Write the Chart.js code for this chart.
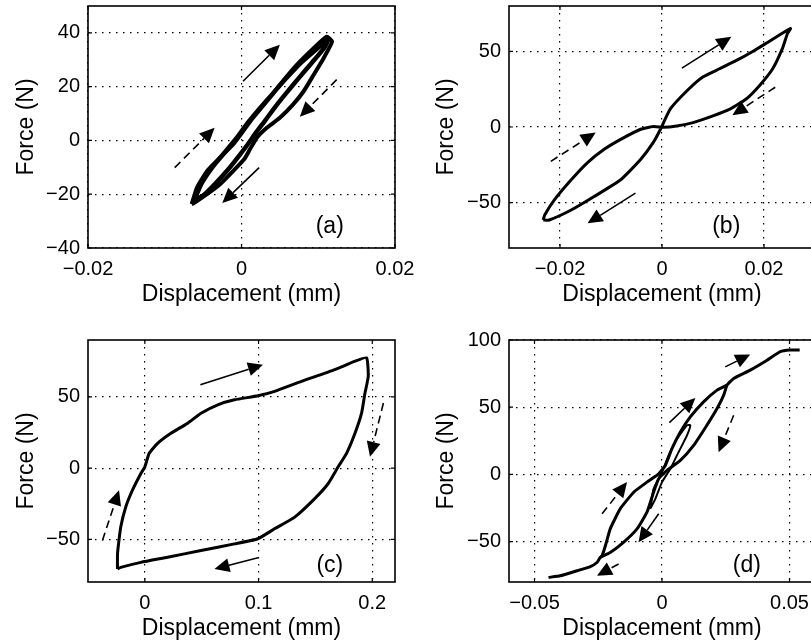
<!DOCTYPE html>
<html>
<head>
<meta charset="utf-8">
<script src="https://cdn.jsdelivr.net/npm/chart.js@4.4.1/dist/chart.umd.min.js"></script>
<style>
  html, body { margin: 0; padding: 0; background: #fff; overflow: hidden; width: 811px; height: 641px; }
  canvas { position: absolute; }
</style>
</head>
<body>
<canvas id="pa" width="420" height="310" style="left:0;top:0"></canvas>
<canvas id="pb" width="420" height="310" style="left:420px;top:0"></canvas>
<canvas id="pc" width="420" height="324" style="left:0;top:320px"></canvas>
<canvas id="pd" width="420" height="324" style="left:420px;top:320px"></canvas>
<script>
// panel (a): overlapping cycles
const loopA1 = [[-0.0065,-23.7],[-0.0058,-17.5],[-0.0045,-11.4],[-0.0028,-6.4],[-0.0011,-1.5],[0.0002,3.4],[0.0015,8.4],[0.0033,14.6],[0.0050,20.7],[0.0072,28.1],[0.0094,34.3],[0.0111,38.6],
  [0.0118,36.8],[0.0107,30.6],[0.0094,24.4],[0.0081,18.3],[0.0067,13.3],[0.0050,8.4],[0.0033,4.7],[0.0020,1.0],[0.0011,-3.3],[0.0004,-6.8],[-0.0011,-11.4],[-0.0028,-16.3],[-0.0045,-20],[-0.0061,-23.1],[-0.0065,-23.7]];
const loopA2 = [[-0.0062,-22.5],[-0.0052,-16],[-0.0038,-10],[-0.0022,-4.5],[-0.0006,1],[0.0008,6.5],[0.0024,12],[0.0041,17.5],[0.0058,23],[0.0078,29],[0.0098,34],[0.0113,37.5],
  [0.0108,34.5],[0.0092,29],[0.0074,23],[0.0058,17.5],[0.0044,12.5],[0.0031,7.5],[0.0019,3],[0.0008,-1.5],[-0.0004,-6],[-0.0018,-11],[-0.0034,-16],[-0.0050,-20.5],[-0.0062,-22.5]];
const xTicksA = [-0.02, 0, 0.02];
const yTicksA = [-40, -20, 0, 20, 40];
const arrowsA = [[0.0002,22,0.0050,35.6,false],[0.0124,22.6,0.0076,8.8,true],[-0.0087,-10.1,-0.0035,4.7,true],[0.0023,-10.1,-0.0025,-23.3,false]];

// panel (b): pinched loop
const loopB = [[-0.0233,-61.5],[-0.0221,-61.5],[-0.0178,-54.9],[-0.0133,-46],[-0.0081,-34.9],[-0.0042,-21.5],[-0.0017,-10.2],[-0.0003,-1.5],
  [0.0016,11.8],[0.0049,24],[0.0080,33.1],[0.0113,38.5],[0.0146,44],[0.0177,49.8],[0.0210,56.5],[0.0235,61.8],[0.0252,65.1],
  [0.0246,61.8],[0.0236,51.8],[0.0217,38.5],[0.0191,27.3],[0.0165,18.5],[0.0133,11.8],[0.0100,7.3],[0.0061,2.9],[0.0029,0.7],[0.0003,-0.2],
  [-0.0017,0.3],[-0.0042,-1.5],[-0.0081,-8.2],[-0.0114,-14.9],[-0.0146,-23.5],[-0.0178,-34.9],[-0.0211,-48.2],[-0.0230,-58.2],[-0.0233,-61.5]];
const xTicksB = [-0.02, 0, 0.02];
const yTicksB = [-50, 0, 50];
const arrowsB = [[0.0039,38.9,0.0136,59.6,false],[0.0222,26.3,0.0138,7.8,true],[-0.0218,-22.7,-0.0130,-3.7,true],[-0.0052,-43.7,-0.0146,-63.7,false]];

// panel (c): wide loop
const loopC = [[-0.0241,-70.8],[-0.0241,-62],[-0.0238,-57.9],[-0.0212,-41.4],[-0.0168,-27.3],[-0.0109,-15.5],[-0.0035,-3.8],[0,0.9],[0.0038,10.4],[0.0112,17.4],[0.0229,24.5],[0.0377,31.6],[0.0494,38.6],[0.0642,44.5],[0.0788,48],[0.0994,50.8],[0.1141,53.9],[0.1377,60.9],[0.1671,69.2],[0.1848,75.1],[0.195,77.5],
  [0.1965,64.5],[0.1936,52.7],[0.1906,38.6],[0.1848,24.5],[0.1774,10.4],[0.170,0.9],[0.1613,-10.8],[0.1494,-21.4],[0.1318,-34.4],[0.1141,-42.6],[0.0994,-49.6],[0.0788,-53.2],[0.0494,-57.9],[0.02,-62.6],[-0.0035,-66.2],[-0.0212,-69.7],[-0.0241,-70.8]];
const xTicksC = [0, 0.1, 0.2];
const yTicksC = [-50, 0, 50];
const arrowsC = [[0.0488,58.6,0.1039,72.7,false],[0.2098,45.7,0.198,8,true],[-0.0373,-50.8,-0.0227,-15.5,true],[0.0995,-63,0.0612,-70.8,false]];

// panel (d): S-shaped path with loops
const pathD = [[-0.0445,-76.6],[-0.0399,-75.4],[-0.0333,-71.6],[-0.0281,-68.5],[-0.0255,-65.5],[-0.0242,-61.7],[-0.0203,-58],[-0.0151,-50.5],[-0.0098,-40.5],[-0.0059,-28.1],[-0.0033,-13.2],[-0.0013,-3.2],[0.002,3],[0.0072,10.4],[0.0124,21.6],[0.0176,36.6],[0.0216,49],[0.0242,59],[0.0255,66.4],
  [0.0281,71.4],[0.0346,77.6],[0.0412,85],[0.0464,91.3],[0.0503,92.5],[0.054,92.5]];
const upperD = [[0.0255,66.4],[0.0216,62.7],[0.0163,54],[0.0111,42.8],[0.0072,31.6],[0.0039,19.2],[0.0013,6.7],[-0.0013,0.5],[-0.0059,-5.7],[-0.0111,-13.2],[-0.0164,-25.6],[-0.0203,-40.5],[-0.0222,-53],[-0.0235,-60.4],[-0.0242,-61.7]];
const innerD = [[-0.0046,-25.6],[-0.0033,-10.7],[0,1.7],[0.0026,14.2],[0.0059,26.6],[0.0098,36.6],[0.0111,36.6],[0.0098,29.1],[0.0065,16.6],[0.0033,4.3],[0,-5.7],[-0.0026,-18.1],[-0.0046,-25.6]];
const xTicksD = [-0.05, 0, 0.05];
const yTicksD = [-50, 0, 50, 100];
const arrowsD = [[0.0248,80,0.0346,89.3,false],[0.0029,38.6,0.0131,56.9,false],[0.0281,44,0.0222,16.6,true],[-0.0235,-29.3,-0.0137,-5.7,true],[-0.0013,-29.3,-0.0092,-50.5,false],[-0.017,-66.6,-0.0255,-75.4,true]];

const FONT = '"Liberation Sans", Arial, Helvetica, sans-serif';
Chart.defaults.font.family = FONT;
Chart.defaults.color = '#000';

function drawArrow(ctx, x1, y1, x2, y2, dashed) {
  const ang = Math.atan2(y2 - y1, x2 - x1);
  const hl = 15, hw = 7;
  const bx = x2 - hl * Math.cos(ang), by = y2 - hl * Math.sin(ang);
  ctx.save();
  ctx.strokeStyle = '#000';
  ctx.fillStyle = '#000';
  ctx.lineWidth = 1.6;
  ctx.setLineDash(dashed ? [8, 5] : []);
  ctx.beginPath();
  ctx.moveTo(x1, y1);
  ctx.lineTo(bx, by);
  ctx.stroke();
  ctx.setLineDash([]);
  ctx.beginPath();
  ctx.moveTo(x2, y2);
  ctx.lineTo(bx + hw * Math.sin(ang), by - hw * Math.cos(ang));
  ctx.lineTo(bx - hw * Math.sin(ang), by + hw * Math.cos(ang));
  ctx.closePath();
  ctx.fill();
  ctx.restore();
}

// box, inward ticks, arrows and panel letter
const decor = {
  id: 'decor',
  afterDraw(chart, args, o) {
    const { ctx, chartArea: a, scales: { x, y } } = chart;
    ctx.save();
    ctx.strokeStyle = '#000';
    ctx.lineWidth = 1.2;
    ctx.beginPath();
    x.ticks.forEach(t => {
      const px = x.getPixelForValue(t.value);
      ctx.moveTo(px, a.bottom); ctx.lineTo(px, a.bottom - 4);
      ctx.moveTo(px, a.top); ctx.lineTo(px, a.top + 4);
    });
    y.ticks.forEach(t => {
      const py = y.getPixelForValue(t.value);
      ctx.moveTo(a.left, py); ctx.lineTo(a.left + 4, py);
      ctx.moveTo(a.right, py); ctx.lineTo(a.right - 4, py);
    });
    ctx.stroke();
    ctx.lineWidth = 1.6;
    ctx.strokeRect(a.left, a.top, a.right - a.left, a.bottom - a.top);
    (o.arrows || []).forEach(([x1, y1, x2, y2, d]) =>
      drawArrow(ctx, x.getPixelForValue(x1), y.getPixelForValue(y1), x.getPixelForValue(x2), y.getPixelForValue(y2), d));
    ctx.fillStyle = '#000';
    ctx.font = '23px ' + FONT;
    ctx.textAlign = 'center';
    ctx.textBaseline = 'middle';
    ctx.fillText(o.label, x.getPixelForValue(o.at[0]), y.getPixelForValue(o.at[1]));
    ctx.restore();
  }
};

const fmt = v => (v < 0 ? '\u2212' + Math.abs(v) : String(v));
const noPad = s => { s.paddingTop = 0; s.paddingBottom = 0; s.paddingLeft = 0; s.paddingRight = 0; };

function makePanel(id, loops, widths, padTop, xr, yr, xt, yt, yw, arrows, label, at) {
  const gridCfg = { color: '#000', lineWidth: 1.2, drawTicks: false };
  const borderCfg = { display: false, dash: [1.5, 5.5] };
  return new Chart(document.getElementById(id), {
    type: 'scatter',
    data: {
      datasets: loops.map((pts, i) => ({
        data: pts.map(([x, y]) => ({ x, y })),
        showLine: true, borderColor: '#000', borderWidth: widths[i],
        pointRadius: 0, tension: 0.15, fill: false
      }))
    },
    options: {
      responsive: false, animation: false, events: [],
      layout: { padding: { top: padTop, right: 25, left: 0, bottom: 0 } },
      plugins: { legend: { display: false }, tooltip: { enabled: false }, decor: { arrows, label, at } },
      scales: {
        x: {
          type: 'linear', min: xr[0], max: xr[1],
          afterBuildTicks: s => { s.ticks = xt.map(v => ({ value: v })); },
          afterFit: s => { s.height = 62; noPad(s); },
          grid: gridCfg, border: borderCfg,
          ticks: { padding: 9, font: { size: 20 }, maxRotation: 0, callback: fmt },
          title: { display: true, text: 'Displacement (mm)', font: { size: 23 }, padding: { top: 0, bottom: 2 } }
        },
        y: {
          type: 'linear', min: yr[0], max: yr[1],
          afterBuildTicks: s => { s.ticks = yt.map(v => ({ value: v })); },
          afterFit: s => { s.width = yw; noPad(s); },
          grid: gridCfg, border: borderCfg,
          ticks: { padding: 8, font: { size: 20 }, callback: fmt },
          title: { display: true, text: 'Force (N)', font: { size: 23 }, padding: { top: 13, bottom: 0 } }
        }
      }
    },
    plugins: [decor]
  });
}

makePanel('pa', [loopA1, loopA2], [4, 4.5], 6, [-0.02, 0.02], [-40, 50], xTicksA, yTicksA, 88, arrowsA, '(a)', [0.0115, -31.9]);
makePanel('pb', [loopB], [3], 6, [-0.03, 0.03], [-80, 80], xTicksB, yTicksB, 89, arrowsB, '(b)', [0.0126, -66.2]);
makePanel('pc', [loopC], [3], 20, [-0.05, 0.22], [-80, 90], xTicksC, yTicksC, 88, arrowsC, '(c)', [0.1627, -68.5]);
makePanel('pd', [pathD, upperD, innerD], [3, 3, 2], 20, [-0.06, 0.06], [-80, 100], xTicksD, yTicksD, 89, arrowsD, '(d)', [0.0333, -67.9]);
</script>
</body>
</html>
